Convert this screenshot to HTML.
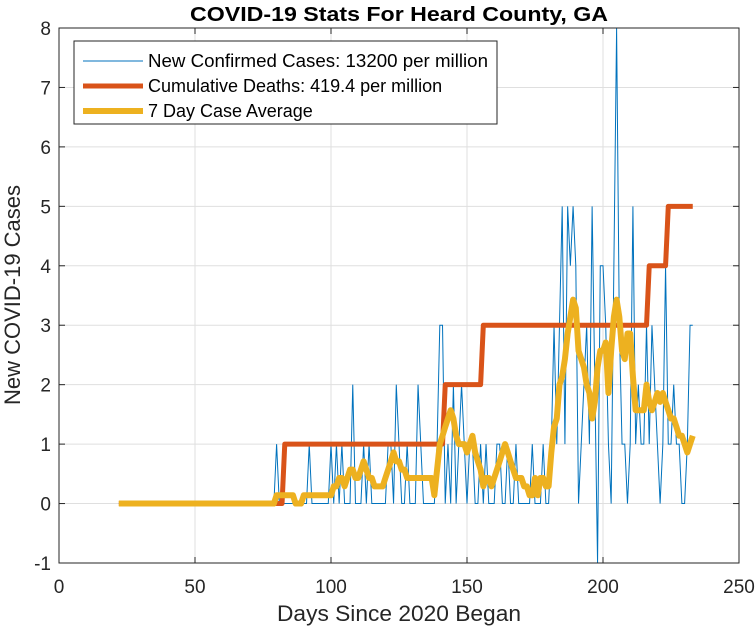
<!DOCTYPE html>
<html><head><meta charset="utf-8"><style>
html,body{margin:0;padding:0;background:#fff;}
svg{display:block;font-family:"Liberation Sans",Arial,sans-serif;}
</style></head><body>
<svg id="chart" width="756" height="630" viewBox="0 0 756 630" xmlns="http://www.w3.org/2000/svg">
<rect width="756" height="630" fill="#fff"/>
<g id="grid"></g>
<g id="series"></g>
<rect x="59" y="28" width="680" height="535" fill="none" stroke="#262626" stroke-width="1"/>
<g id="ticks"></g>
<text x="399" y="21" text-anchor="middle" font-size="20" font-weight="bold" fill="#000" textLength="418" lengthAdjust="spacingAndGlyphs">COVID-19 Stats For Heard County, GA</text>
<text x="399" y="621" text-anchor="middle" font-size="22" fill="#262626" textLength="244" lengthAdjust="spacingAndGlyphs">Days Since 2020 Began</text>
<text transform="translate(20,295) rotate(-90)" text-anchor="middle" font-size="22" fill="#262626">New COVID-19 Cases</text>
<g>
<rect x="74" y="41" width="423" height="83" fill="#fff" stroke="#262626" stroke-width="1"/>
<line x1="83" y1="61" x2="143" y2="61" stroke="#0072bd" stroke-width="1"/>
<text x="148" y="67" font-size="18" fill="#000" textLength="340" lengthAdjust="spacingAndGlyphs">New Confirmed Cases: 13200 per million</text>
<line x1="83" y1="86" x2="143" y2="86" stroke="#d95319" stroke-width="5"/>
<text x="148" y="92" font-size="18" fill="#000">Cumulative Deaths: 419.4 per million</text>
<line x1="83" y1="111" x2="143" y2="111" stroke="#edb120" stroke-width="6"/>
<text x="148" y="117" font-size="18" fill="#000">7 Day Case Average</text>
</g>
</svg>
<script>
const startDay = 22;
const xTicks = [0,50,100,150,200,250];
const yTicks = [-1,0,1,2,3,4,5,6,7,8];
const cases = [
0,0,0,0,0,0,0,0,0,0,
0,0,0,0,0,0,0,0,0,0,
0,0,0,0,0,0,0,0,0,0,
0,0,0,0,0,0,0,0,0,0,
0,0,0,0,0,0,0,0,0,0,
0,0,0,0,0,0,0,0,1,0,
0,0,0,0,0,0,0,0,0,0,
1,0,0,0,0,0,0,0,1,0,
1,0,1,0,0,0,2,0,0,0,
1,0,1,0,0,0,0,0,0,1,
1,0,2,1,0,0,1,0,0,0,
2,1,0,0,0,0,0,1,3,3,
0,1,0,2,0,1,2,1,0,1,
1,0,0,1,0,1,0,0,0,1,
1,0,0,1,0,0,1,0,0,0,
0,0,1,0,0,0,1,0,0,1,
3,1,3,5,1,5,4,5,4,0,
1,2,3,1,5,2,-1,4,4,3,
1,0,4,8,3,1,1,0,1,5,
1,2,1,1,3,1,3,2,1,0,
1,4,1,1,2,1,1,0,0,1,
3,3];
const average = [
0,0,0,0,0,0,0,0,0,0,
0,0,0,0,0,0,0,0,0,0,
0,0,0,0,0,0,0,0,0,0,
0,0,0,0,0,0,0,0,0,0,
0,0,0,0,0,0,0,0,0,0,
0,0,0,0,0,0,0,0,0.14,0.14,
0.14,0.14,0.14,0.14,0.14,0,0,0,0.14,0.14,
0.14,0.14,0.14,0.14,0.14,0.14,0.14,0.14,0.14,0.29,
0.29,0.43,0.43,0.29,0.43,0.57,0.57,0.43,0.43,0.57,
0.71,0.57,0.43,0.43,0.29,0.29,0.29,0.29,0.43,0.57,
0.71,0.86,0.71,0.71,0.57,0.57,0.43,0.43,0.43,0.43,
0.43,0.43,0.43,0.43,0.43,0.43,0.14,0.57,1.0,1.14,
1.29,1.43,1.57,1.43,1.14,1.0,1.0,1.0,0.86,1.0,
1.14,0.86,0.71,0.57,0.29,0.43,0.43,0.29,0.43,0.57,
0.71,0.86,1.0,0.86,0.71,0.57,0.43,0.43,0.43,0.29,
0.29,0.14,0.14,0.43,0.14,0.43,0.43,0.29,0.29,0.86,
1.29,1.43,2.0,2.14,2.43,2.86,3.14,3.43,3.29,2.57,
2.43,2.29,2.0,1.86,1.43,1.71,2.29,2.57,2.57,2.71,
1.86,2.57,3.14,3.43,3.14,2.57,2.43,2.86,2.86,2.14,
1.57,1.57,1.57,1.57,2.0,1.71,1.57,1.71,1.86,1.71,
1.86,1.71,1.57,1.43,1.43,1.29,1.14,1.14,1.0,0.86,
1.0,1.14];
const deathDays = [22,83,142,156,217,224,233];
const deathValues = [0,1,2,3,4,5,5];

const NS = "http://www.w3.org/2000/svg";
const X0=59, X1=739, Y0=563, Y1=28;
const xMin=0,xMax=250,yMin=-1,yMax=8;
function sx(v){return X0+(v-xMin)/(xMax-xMin)*(X1-X0);}
function sy(v){return Y0-(v-yMin)/(yMax-yMin)*(Y0-Y1);}
function mk(tag,attrs,parent){const e=document.createElementNS(NS,tag);for(const k in attrs)e.setAttribute(k,attrs[k]);parent.appendChild(e);return e;}
const grid=document.getElementById('grid'), ticks=document.getElementById('ticks'), series=document.getElementById('series');
xTicks.forEach(t=>{
  const x=sx(t);
  const g=mk('line',{x1:x,x2:x,y1:Y1,y2:Y0,stroke:'#dfdfdf','stroke-width':1},grid);
  
  
  const tk=mk('line',{x1:x,x2:x,y1:Y0,y2:Y0-6,stroke:'#262626','stroke-width':1},ticks);
  
  
  const tk2=mk('line',{x1:x,x2:x,y1:Y1,y2:Y1+6,stroke:'#262626','stroke-width':1},ticks);
  
  
  const tx=mk('text',{x:x,y:Y0+30,'text-anchor':'middle','font-size':19,fill:'#262626'},ticks);
  tx.textContent=t;
  
  
});
yTicks.forEach(t=>{
  const y=sy(t);
  const g=mk('line',{x1:X0,x2:X1,y1:y,y2:y,stroke:'#dfdfdf','stroke-width':1},grid);
  
  
  const tk=mk('line',{x1:X0,x2:X0+6,y1:y,y2:y,stroke:'#262626','stroke-width':1},ticks);
  
  
  const tk2=mk('line',{x1:X1,x2:X1-6,y1:y,y2:y,stroke:'#262626','stroke-width':1},ticks);
  
  
  const tx=mk('text',{x:X0-8,y:y+7,'text-anchor':'end','font-size':19,fill:'#262626'},ticks);
  tx.textContent=t;
  
  
});
function pts(arr){return arr.map((v,i)=>sx(startDay+i).toFixed(2)+','+sy(v).toFixed(2)).join(' ');}
const pc=mk('polyline',{points:pts(cases),fill:'none',stroke:'#0072bd','stroke-width':1,'stroke-linejoin':'miter'},series);


let dp=[];
deathDays.forEach((d,i)=>{
  if(i>0) dp.push(sx(d-1).toFixed(2)+','+sy(deathValues[i-1]).toFixed(2));
  dp.push(sx(d).toFixed(2)+','+sy(deathValues[i]).toFixed(2));
});
const pd=mk('polyline',{points:dp.join(' '),fill:'none',stroke:'#d95319','stroke-width':5,'stroke-linejoin':'round'},series);


const pa=mk('polyline',{points:pts(average),fill:'none',stroke:'#edb120','stroke-width':6,'stroke-linejoin':'round','stroke-linecap':'butt'},series);


</script>
</body></html>
